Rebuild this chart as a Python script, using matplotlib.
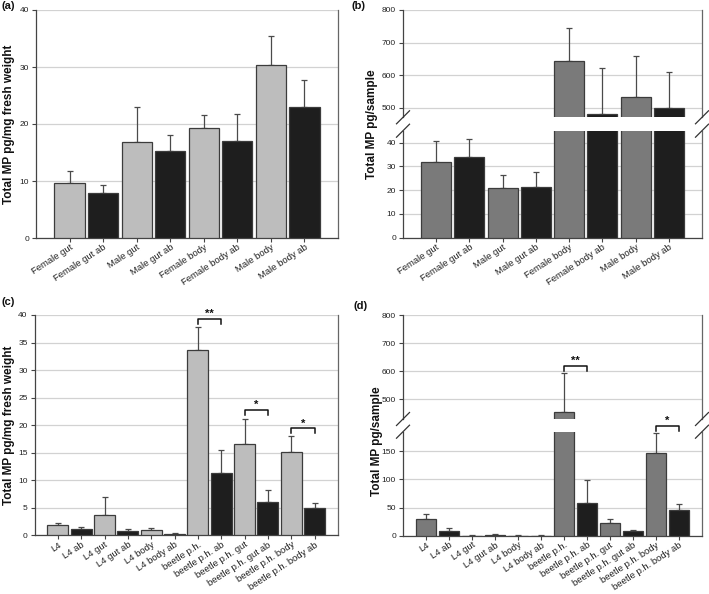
import matplotlib
matplotlib.use('Agg')
import matplotlib.pyplot as plt
import numpy as np
from matplotlib.lines import Line2D

plt.rcParams['font.family'] = ['Liberation Sans', 'DejaVu Sans']

# ---------------- data ----------------
cats_top = ['Female gut', 'Female gut ab', 'Male gut', 'Male gut ab',
            'Female body', 'Female body ab', 'Male body', 'Male body ab']
a_vals = [9.7, 7.9, 16.9, 15.2, 19.3, 17.1, 30.3, 22.9]
a_errtop = [11.8, 9.35, 22.9, 18.1, 21.55, 21.7, 35.5, 27.8]

b_vals = [31.8, 34.0, 20.7, 21.4, 644, 481, 531, 499]
b_errtop = [40.8, 41.6, 26.2, 27.5, 745, 621, 657, 610]

cats_bot = ['L4', 'L4 ab', 'L4 gut', 'L4 gut ab', 'L4 body', 'L4 body ab',
            'beetle p.h.', 'beetle p.h. ab', 'beetle p.h. gut',
            'beetle p.h. gut ab', 'beetle p.h. body', 'beetle p.h. body ab']
c_vals = [1.94, 1.1, 3.76, 0.85, 1.03, 0.24, 33.7, 11.3, 16.5, 6.06, 15.15, 5.03]
c_errtop = [2.3, 1.5, 7.0, 1.15, 1.4, 0.35, 37.9, 15.45, 21.15, 8.3, 17.94, 5.88]

d_vals = [29.1, 8.9, 0.2, 1.5, 0.2, 0.1, 455, 57.6, 22.0, 9.0, 147, 45]
d_errtop = [38, 13, 0.8, 2.2, 0.8, 1.5, 595, 99, 29, 10.7, 183, 56]

# significance brackets: (left index, right index, y, label)
c_sig = [(6, 7, 39.3, '**'), (8, 9, 22.7, '*'), (10, 11, 19.4, '*')]
d_sig_upper = [(6, 7, 620, '**')]
d_sig_lower = [(10, 11, 195.5, '*')]

# ---------------- style ----------------
W, H = 709, 594
fig = plt.figure(figsize=(W / 100, H / 100), dpi=100)

LIGHT = '#bdbdbd'
MID = '#7a7a7a'
DARK = '#1e1e1e'
EDGE = '#3c3c3c'
GRID = '#d2d2d2'


def px_axes(l, t, r, b):
    return fig.add_axes([l / W, 1 - b / H, (r - l) / W, (b - t) / H])


def style_ax(ax, bottom=True):
    ax.set_axisbelow(True)
    ax.yaxis.grid(True, color=GRID, lw=0.9)
    ax.spines['top'].set_visible(False)
    ax.spines['left'].set_color('#444444')
    ax.spines['right'].set_color('#666666')
    ax.spines['bottom'].set_color('#444444')
    for s in ax.spines.values():
        s.set_linewidth(0.9)
    ax.tick_params(axis='y', labelsize=6, length=3, width=0.8, color='#444444',
                   pad=2, labelcolor='#222222')
    ax.tick_params(axis='x', labelsize=6.8, length=3, width=0.8, color='#444444',
                   pad=0.5, labelcolor='#222222')
    if not bottom:
        ax.spines['bottom'].set_visible(False)
        ax.tick_params(axis='x', bottom=False, labelbottom=False)


def draw_bars(ax, vals, errtop, gray):
    n = len(vals)
    x = np.arange(n)
    colors = [gray if i % 2 == 0 else DARK for i in range(n)]
    vals = np.array(vals, dtype=float)
    errtop = np.array(errtop, dtype=float)
    ax.errorbar(x, vals, yerr=[np.zeros(n), errtop - vals], fmt='none',
                ecolor='#4a4a4a', elinewidth=0.9, capsize=2.5, capthick=0.9,
                zorder=2)
    ax.bar(x, vals, width=0.9, color=colors, edgecolor=EDGE, linewidth=0.9,
           zorder=3)
    ax.set_xlim(-1, n)
    return x


def set_xlabels(ax, cats):
    ax.set_xticks(np.arange(len(cats)))
    ax.set_xticklabels(cats, rotation=33, ha='right', rotation_mode='anchor')


def bracket(ax, i, j, y, drop, label, clip=True):
    ax.plot([i, i, j, j], [y - drop, y, y, y - drop], color='#111111',
            lw=1.1, zorder=5, clip_on=clip)
    ax.text((i + j) / 2, y, label, ha='center', va='bottom', fontsize=8,
            fontweight='bold', color='#111111', clip_on=False)


def break_marks(ax_up, ax_low):
    pu = ax_up.get_position()
    pl = ax_low.get_position()
    dx, dy = 6.5 / W, 6.5 / H
    for xf in (pu.x0, pu.x1):
        for yf in (pu.y0, pl.y1):
            fig.add_artist(Line2D([xf - dx, xf + dx], [yf - dy, yf + dy],
                                  color='#333333', lw=0.9))


# ---------------- panel (a) ----------------
ax_a = px_axes(36, 10, 338, 238)
style_ax(ax_a)
draw_bars(ax_a, a_vals, a_errtop, LIGHT)
ax_a.set_ylim(0, 40)
ax_a.set_yticks([0, 10, 20, 30, 40])
set_xlabels(ax_a, cats_top)

# ---------------- panel (b) ----------------
ax_bu = px_axes(403, 10, 702, 117.3)
ax_bl = px_axes(403, 130.7, 702, 237.7)
style_ax(ax_bu, bottom=False)
style_ax(ax_bl)
draw_bars(ax_bu, b_vals, b_errtop, MID)
draw_bars(ax_bl, b_vals, b_errtop, MID)
ax_bu.set_ylim(470, 800)
ax_bu.set_yticks([500, 600, 700, 800])
ax_bl.set_ylim(0, 45)
ax_bl.set_yticks([0, 10, 20, 30, 40])
set_xlabels(ax_bl, cats_top)
break_marks(ax_bu, ax_bl)

# ---------------- panel (c) ----------------
ax_c = px_axes(34.5, 315, 338, 535.3)
style_ax(ax_c)
draw_bars(ax_c, c_vals, c_errtop, LIGHT)
ax_c.set_ylim(0, 40)
ax_c.set_yticks(np.arange(0, 41, 5))
set_xlabels(ax_c, cats_bot)
for i, j, y, lab in c_sig:
    bracket(ax_c, i, j, y, 0.9, lab, clip=False)

# ---------------- panel (d) ----------------
ax_du = px_axes(403, 315, 702, 419)
ax_dl = px_axes(403, 431.7, 702, 535.7)
style_ax(ax_du, bottom=False)
style_ax(ax_dl)
draw_bars(ax_du, d_vals, d_errtop, MID)
draw_bars(ax_dl, d_vals, d_errtop, MID)
ax_du.set_ylim(430, 800)
ax_du.set_yticks([500, 600, 700, 800])
ax_dl.set_ylim(0, 185)
ax_dl.set_yticks([0, 50, 100, 150])
set_xlabels(ax_dl, cats_bot)
for i, j, y, lab in d_sig_upper:
    bracket(ax_du, i, j, y, 18, lab, clip=False)
for i, j, y, lab in d_sig_lower:
    bracket(ax_dl, i, j, y, 9, lab, clip=False)
break_marks(ax_du, ax_dl)

# ---------------- labels ----------------
ylab_kw = dict(rotation=90, ha='center', va='center', fontsize=8.5,
               fontweight='bold', color='#111111')
fig.text(9 / W, 1 - 124 / H, 'Total MP pg/mg fresh weight', **ylab_kw)
fig.text(372 / W, 1 - 124 / H, 'Total MP pg/sample', **ylab_kw)
fig.text(9 / W, 1 - 425 / H, 'Total MP pg/mg fresh weight', **ylab_kw)
fig.text(377 / W, 1 - 441 / H, 'Total MP pg/sample', **ylab_kw)

pl_kw = dict(ha='left', va='center', fontsize=8, fontweight='bold',
             color='#111111')
fig.text(1 / W, 1 - 6 / H, '(a)', **pl_kw)
fig.text(352 / W, 1 - 6 / H, '(b)', **pl_kw)
fig.text(1 / W, 1 - 302 / H, '(c)', **pl_kw)
fig.text(353 / W, 1 - 306 / H, '(d)', **pl_kw)

fig.savefig('out.png', dpi=100, facecolor='white')
